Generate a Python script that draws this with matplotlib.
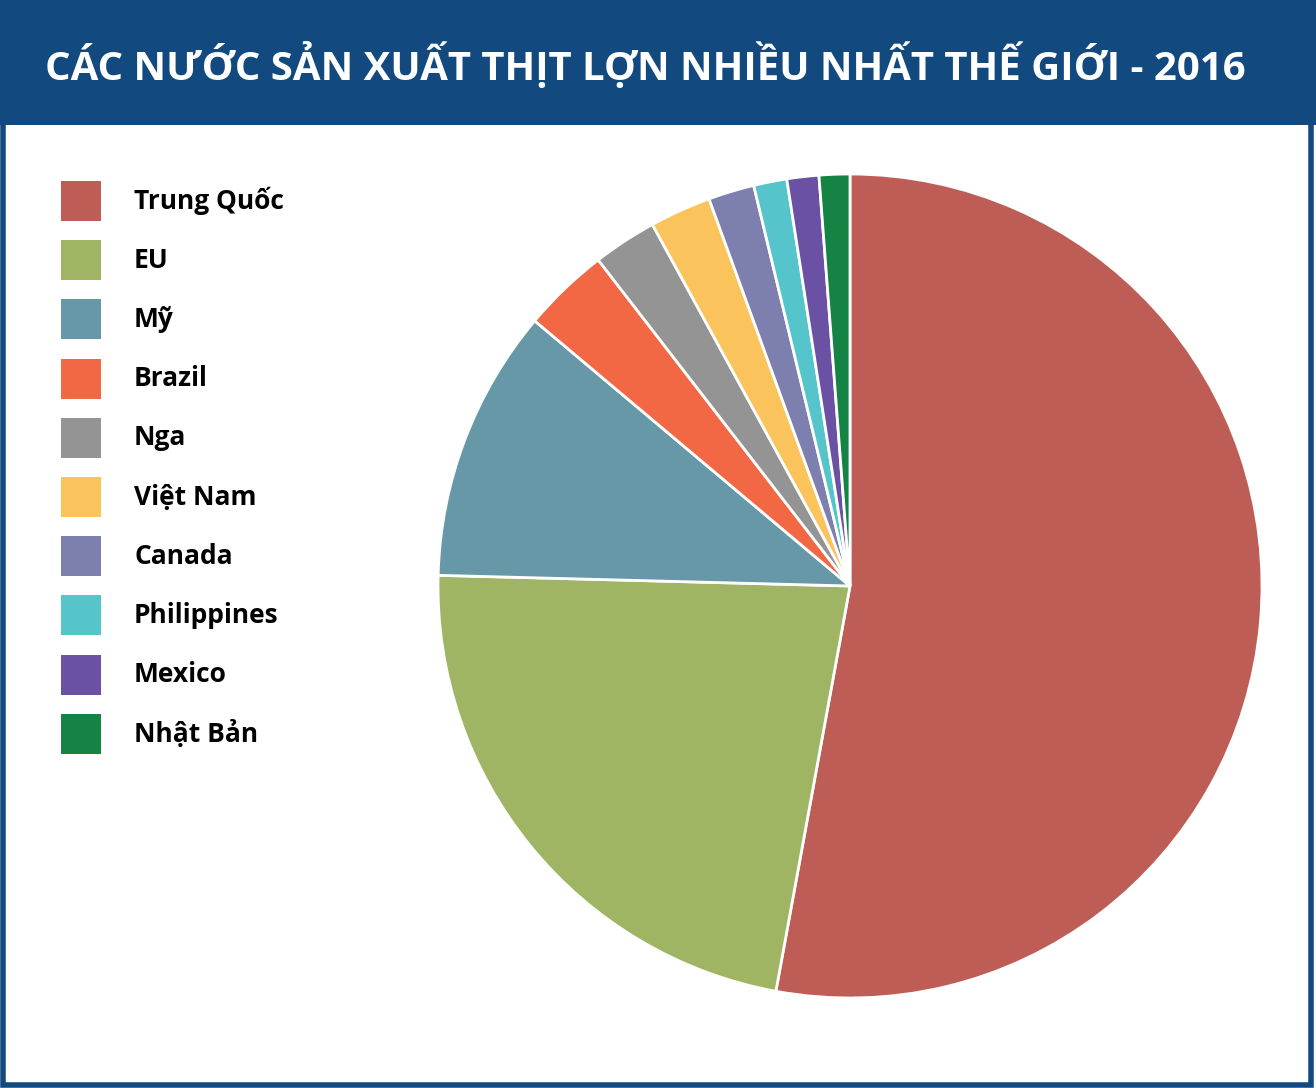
import matplotlib
matplotlib.use("Agg")
import matplotlib.pyplot as plt
from matplotlib.patches import Rectangle

# data (share of world pork output, %)
countries = ["Trung Quốc", "EU", "Mỹ", "Brazil", "Nga", "Việt Nam",
             "Canada", "Philippines", "Mexico", "Nhật Bản"]
shares = [52.8, 22.5, 10.7, 3.4, 2.5, 2.4, 1.8, 1.3, 1.25, 1.2]
colors = ["#BE5C56", "#9FB563", "#6698A8", "#F26744", "#949494",
          "#FAC35B", "#7D7FAE", "#56C5CB", "#6B51A3", "#148343"]
title = "CÁC NƯỚC SẢN XUẤT THỊT LỢN NHIỀU NHẤT THẾ GIỚI - 2016"

W, H = 1316, 1088
NAVY = "#124A80"
FONT = ["Open Sans", "DejaVu Sans"]

fig = plt.figure(figsize=(W / 100, H / 100), dpi=100)
fig.patch.set_facecolor("white")


def px(x, y):
    # pixel coords (top-left origin) -> figure fraction
    return x / W, 1 - y / H


# title banner and frame
fig.patches.append(Rectangle((0, 1 - 125 / H), 1, 125 / H, transform=fig.transFigure,
                             facecolor=NAVY, edgecolor="none", zorder=0))
fig.patches.append(Rectangle((0.002, 0.003), 0.994, 0.99, transform=fig.transFigure,
                             facecolor="none", edgecolor=NAVY, lw=4, zorder=1))
tx, ty = px(45, 66)
fig.text(tx, ty, title, color="white", fontsize=28.9, fontweight="bold",
         family=FONT, ha="left", va="center")

# pie
cx, cy, r = 850, 586, 412
ax = fig.add_axes([(cx - r) / W, (H - cy - r) / H, 2 * r / W, 2 * r / H])
wedges, _ = ax.pie(shares, colors=colors, startangle=90, counterclock=False, radius=1,
                   wedgeprops=dict(edgecolor="white", linewidth=2))
for w in wedges:
    w.set_clip_on(False)
ax.set_xlim(-1, 1)
ax.set_ylim(-1, 1)
ax.set_aspect("equal")
ax.axis("off")

# legend, drawn by hand
for i, (name, c) in enumerate(zip(countries, colors)):
    top = 181 + i * 59.2
    x0, y0 = px(61, top + 40)
    fig.patches.append(Rectangle((x0, y0), 40 / W, 40 / H, transform=fig.transFigure,
                                 facecolor=c, edgecolor="none"))
    lx, ly = px(134, top + 20)
    fig.text(lx, ly, name, fontsize=19, fontweight="bold", family=FONT,
             ha="left", va="center", color="black")

fig.savefig("out.png", dpi=100)
